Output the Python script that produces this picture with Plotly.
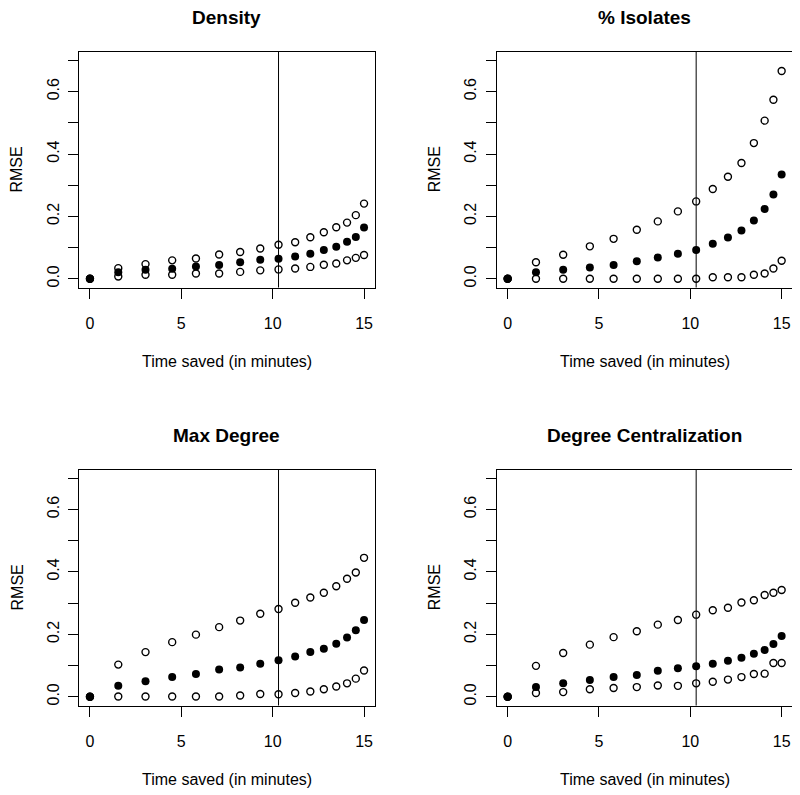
import plotly.graph_objects as go

# time saved (minutes) for each simulation step
time_saved = [0, 1.55, 3.04, 4.5, 5.8, 7.07, 8.22, 9.32, 10.32, 11.23, 12.06, 12.8, 13.48, 14.07, 14.55, 15.0]
cutoff = 10.32

titles = ["Density", "% Isolates", "Max Degree", "Degree Centralization"]

density_mid = [0, 0.021, 0.029, 0.032, 0.039, 0.044, 0.053, 0.061, 0.064, 0.071, 0.080, 0.092, 0.103, 0.119, 0.134, 0.164]
density_hi = [0, 0.034, 0.047, 0.059, 0.065, 0.078, 0.086, 0.097, 0.109, 0.117, 0.133, 0.149, 0.165, 0.180, 0.204, 0.241]
density_lo = [0, 0.0075, 0.013, 0.013, 0.017, 0.017, 0.022, 0.027, 0.030, 0.033, 0.038, 0.045, 0.049, 0.059, 0.067, 0.076]

isolates_mid = [0, 0.021, 0.029, 0.036, 0.044, 0.056, 0.068, 0.080, 0.092, 0.112, 0.132, 0.155, 0.187, 0.224, 0.270, 0.334]
isolates_hi = [0, 0.053, 0.077, 0.104, 0.128, 0.157, 0.184, 0.216, 0.248, 0.288, 0.327, 0.371, 0.435, 0.507, 0.574, 0.666]
isolates_lo = [0, 0, 0, 0, 0, 0, 0, 0, 0, 0.005, 0.005, 0.005, 0.013, 0.017, 0.033, 0.058]

maxdeg_mid = [0, 0.035, 0.050, 0.063, 0.073, 0.087, 0.094, 0.106, 0.117, 0.129, 0.143, 0.154, 0.170, 0.190, 0.213, 0.246]
maxdeg_hi = [0, 0.103, 0.143, 0.175, 0.199, 0.223, 0.244, 0.266, 0.281, 0.301, 0.318, 0.333, 0.354, 0.378, 0.398, 0.445]
maxdeg_lo = [0, 0.001, 0.001, 0.001, 0.001, 0.001, 0.004, 0.009, 0.008, 0.012, 0.017, 0.024, 0.033, 0.043, 0.058, 0.084]

central_mid = [0, 0.031, 0.043, 0.054, 0.063, 0.070, 0.083, 0.091, 0.098, 0.106, 0.115, 0.125, 0.138, 0.150, 0.169, 0.195]
central_hi = [0, 0.099, 0.140, 0.167, 0.191, 0.210, 0.231, 0.246, 0.263, 0.277, 0.285, 0.302, 0.309, 0.326, 0.333, 0.342]
central_lo = [0, 0.012, 0.015, 0.024, 0.028, 0.031, 0.036, 0.035, 0.043, 0.048, 0.055, 0.063, 0.073, 0.074, 0.108, 0.108]

panels = [
    (density_mid, density_hi, density_lo),
    (isolates_mid, isolates_hi, isolates_lo),
    (maxdeg_mid, maxdeg_hi, maxdeg_lo),
    (central_mid, central_hi, central_lo),
]

y_ticks = [0, 0.1, 0.2, 0.3, 0.4, 0.5, 0.6, 0.7]
y_ticktext = ["0.0", "", "0.2", "", "0.4", "", "0.6", ""]
x_ticks = [0, 5, 10, 15]

FONT = "Liberation Sans, Arial, Helvetica, sans-serif"
# the page body has an 8px margin, so the figure is a bit smaller and shifted
OFF = 8
W, H = 800 - OFF, 795 - OFF

# plot boxes in page pixels (left, right, top, bottom)
boxes = [
    (79, 375, 51.7, 287.5),
    (496.7, 792.6, 51.7, 287.5),
    (79, 375, 469.5, 705.5),
    (496.7, 792.6, 469.5, 705.5),
]

fig = go.Figure()
layout = dict(
    width=W, height=H,
    margin=dict(l=0, r=0, t=0, b=0),
    plot_bgcolor="white", paper_bgcolor="white",
    showlegend=False,
    font=dict(family=FONT, size=16, color="black"),
    shapes=[], annotations=[],
)

for i, (mid, hi, lo) in enumerate(panels):
    n = i + 1
    xa = "x" if n == 1 else "x%d" % n
    ya = "y" if n == 1 else "y%d" % n
    l, r, t, b = [v - OFF for v in boxes[i]]

    for ser in (hi, lo):
        fig.add_trace(go.Scatter(
            x=time_saved, y=ser, mode="markers", xaxis=xa, yaxis=ya,
            marker=dict(symbol="circle-open", size=7, color="black", line=dict(width=1.4, color="black")),
        ))
    fig.add_trace(go.Scatter(
        x=time_saved, y=mid, mode="markers", xaxis=xa, yaxis=ya,
        marker=dict(symbol="circle", size=8, color="black"),
    ))

    axis_common = dict(
        showgrid=False, zeroline=False, showline=True, mirror=True,
        linecolor="black", linewidth=1, ticks="outside", ticklen=10,
        tickwidth=1, tickcolor="black", tickfont=dict(size=16, family=FONT),
    )
    layout["xaxis" if n == 1 else "xaxis%d" % n] = dict(
        axis_common, domain=[l / W, r / W], range=[-0.6, 15.6],
        tickvals=x_ticks, anchor=ya, ticklabelstandoff=11,
    )
    layout["yaxis" if n == 1 else "yaxis%d" % n] = dict(
        axis_common, domain=[1 - b / H, 1 - t / H], range=[-0.028, 0.728],
        tickvals=y_ticks, ticktext=y_ticktext, tickangle=-90, anchor=xa,
        ticklabelstandoff=3,
    )

    # vertical reference line
    layout["shapes"].append(dict(
        type="line", xref=xa, yref=ya + " domain", x0=cutoff, x1=cutoff, y0=0, y1=1,
        line=dict(color="black", width=1),
    ))
    cx = (l + r) / 2 / W
    layout["annotations"].append(dict(
        text="<b>%s</b>" % titles[i], x=cx, y=1 - (t - 34) / H, xref="paper", yref="paper",
        showarrow=False, font=dict(size=19, family=FONT), xanchor="center", yanchor="middle",
    ))
    layout["annotations"].append(dict(
        text="Time saved (in minutes)", x=cx, y=1 - (b + 74) / H, xref="paper", yref="paper",
        showarrow=False, font=dict(size=16, family=FONT), xanchor="center", yanchor="middle",
    ))
    layout["annotations"].append(dict(
        text="RMSE", x=(l - 62) / W, y=1 - (t + b) / 2 / H, xref="paper", yref="paper",
        showarrow=False, font=dict(size=16, family=FONT), textangle=-90,
        xanchor="center", yanchor="middle",
    ))

fig.update_layout(**layout)
fig.write_html("out.html")
